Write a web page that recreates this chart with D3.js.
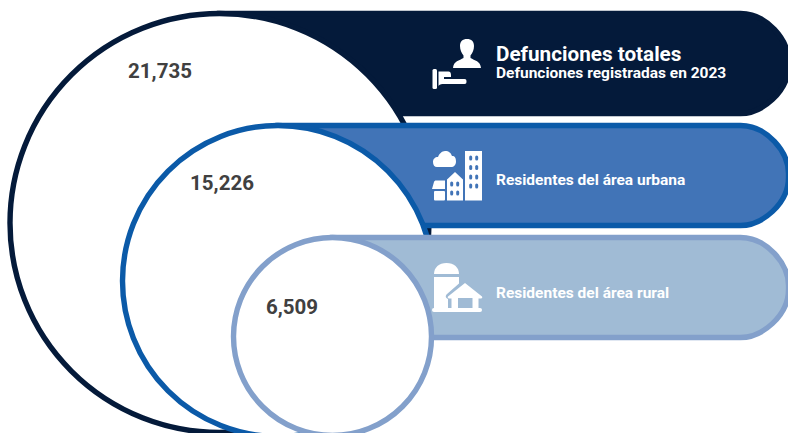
<!DOCTYPE html>
<html lang="es">
<head>
<meta charset="utf-8">
<script src="https://cdn.jsdelivr.net/npm/d3@7"></script>
<style>
html,body{margin:0;padding:0;background:#fff;overflow:hidden}
svg{display:block}
text{font-family:Roboto,sans-serif;font-weight:700}
</style>
</head>
<body>
<div id="chart"></div>
<script>
const categories = ["Defunciones totales", "Residentes del área urbana", "Residentes del área rural"];
const subtitles = ["Defunciones registradas en 2023", "", ""];
const values = [21735, 15226, 6509];
const strokeColors = ["#041a3a", "#0b5aa8", "#83a0cb"];
const fillColors = ["#041a3a", "#4174b7", "#a0bbd5"];

const W = 788, H = 433, SW = 5.4;
const svg = d3.select("#chart").append("svg").attr("width", W).attr("height", H);

// The original rings are schematic, not proportional: piecewise scales follow its layout
const ascending = values.slice().reverse();
const r = d3.scaleLinear().domain(ascending).range([99, 155.5, 209.5]);
const cx = d3.scaleLinear().domain(ascending).range([332.5, 278, 219.5]);
const leftTop = d3.scaleLinear().domain(ascending).range([237.5, 125.5, 13.5]);
const fmt = d3.format(",");

const labelX = d3.scaleLinear().domain(ascending).range([292, 222, 160]);
const labelY = d3.scaleLinear().domain(ascending).range([307, 183, 71]);
const textY = d3.scaleLinear().domain(ascending).range([292.7, 179.7, 53.7]);

const PILL_H = 100, PILL_R = 48, PILL_RIGHT = 788.5;
function pillPath(x0, y0) {
  const p = d3.path();
  p.moveTo(x0, y0);
  p.lineTo(PILL_RIGHT - PILL_R, y0);
  p.bezierCurveTo(PILL_RIGHT - PILL_R * 0.45, y0, PILL_RIGHT, y0 + PILL_R * 0.55, PILL_RIGHT, y0 + PILL_R);
  p.lineTo(PILL_RIGHT, y0 + PILL_H - PILL_R);
  p.bezierCurveTo(PILL_RIGHT, y0 + PILL_H - PILL_R * 0.45, PILL_RIGHT - PILL_R * 0.55, y0 + PILL_H, PILL_RIGHT - PILL_R, y0 + PILL_H);
  p.lineTo(x0, y0 + PILL_H);
  p.closePath();
  return p.toString();
}

values.forEach((v, i) => {
  const top = leftTop(v);
  const g = svg.append("g");
  g.append("path")
    .attr("d", pillPath(cx(v), top))
    .attr("fill", fillColors[i]).attr("stroke", strokeColors[i]).attr("stroke-width", SW);
  g.append("circle")
    .attr("cx", cx(v)).attr("cy", top + r(v))
    .attr("r", r(v))
    .attr("fill", "#fff").attr("stroke", strokeColors[i]).attr("stroke-width", SW);
  g.append("text")
    .attr("x", labelX(v)).attr("y", labelY(v))
    .attr("text-anchor", "middle").attr("dominant-baseline", "central")
    .attr("font-size", 20.5).attr("fill", "#404040")
    .text(fmt(v));
  if (subtitles[i]) {
    g.append("text").attr("x", 496).attr("y", textY(v)).attr("dominant-baseline", "central")
      .attr("font-size", 20.7).attr("fill", "#fff").text(categories[i]);
    g.append("text").attr("x", 496).attr("y", textY(v) + 19).attr("dominant-baseline", "central")
      .attr("font-size", 15.5).attr("fill", "#fff").text(subtitles[i]);
  } else {
    g.append("text").attr("x", 496).attr("y", textY(v)).attr("dominant-baseline", "central")
      .attr("font-size", 15.5).attr("fill", "#fff").text(categories[i]);
  }
});

// Icons (decorative glyphs)
const icons = svg.append("g").attr("fill", "#fff");

// person + hand
icons.append("path").attr("d",
  "M467 39c4.500 0 7 2.500 7 7c0 4-1.500 7-3.500 9.500v2.500c4 2.500 10 3 10.500 10h-28c.5-7 6.500-7.500 10.500-10v-2.500c-2-2.500-3.500-5.500-3.500-9.500c0-4.500 2.500-7 7-7z");
icons.append("rect").attr("x", 432.5).attr("y", 69).attr("width", 4.5).attr("height", 20).attr("rx", 1.5);
icons.append("path").attr("d",
  "M438.500 71.500h10c1.500 0 2.500 1 2.500 3.500v2h-7v2h20.500c1.500 0 2 .8 2 2.500s-.5 2.500-2 2.500h-22c-2 0-4 1-4 2.500z");

// buildings
icons.append("path").attr("d", "M433 162c0-3 2-5 5-5c1-3 4-6 7-6c4 0 6 2 7 5c3 0 4 2 4 5.500c0 3.500-2 5.500-5 5.500h-14c-2.500 0-4-2-4-5z");
icons.append("rect").attr("x", 465).attr("y", 151).attr("width", 17).attr("height", 49.500);
icons.append("path").attr("d", "M447 200.500v-21l8-7.500l8 7.500v21z");
icons.append("path").attr("d", "M432 189l2-7c.4-1 1-1.500 2-1.500h9v8.500z");
icons.append("rect").attr("x", 434).attr("y", 191).attr("width", 11).attr("height", 9.500).attr("rx", 1);
const windows = icons.append("g").attr("fill", "#4174b7");
[[470.7,158],[476.7,158],[470.7,167.500],[476.7,167.500],[470.7,177],[476.7,177],[470.7,186],[476.7,186],
 [451.7,184],[457.7,184],[451.7,193],[457.7,193]].forEach(p =>
  windows.append("rect").attr("x", p[0] - 1.5).attr("y", p[1] - 2.500).attr("width", 3).attr("height", 5).attr("rx", 1.500));

// silo + house
icons.append("path").attr("d", "M434 274c0-6.500 5-11 12.500-11s12.500 4.500 12.500 11z");
icons.append("path").attr("d", "M434 277h25v6.500l-12 10.500c-2 2-1.500 4 1 5v10h-14z");
icons.append("path").attr("d", "M465 283l17 13.500c.6 1 0 2-1 2h-2.500v10h-27v-10h-2.500c-1 0-1.600-1-1-2z");
icons.append("rect").attr("x", 458).attr("y", 298).attr("width", 14.500).attr("height", 10).attr("fill", "#a0bbd5");
icons.append("rect").attr("x", 432).attr("y", 308).attr("width", 50).attr("height", 4).attr("rx", 2);
</script>
</body>
</html>
